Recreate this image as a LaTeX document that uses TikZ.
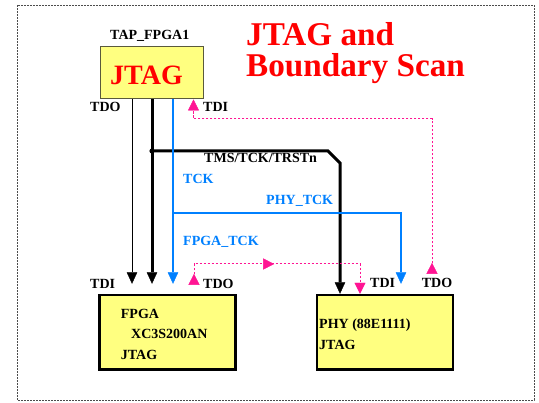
\documentclass[tikz,border=0pt]{standalone}
\usepackage{fontspec}
\setmainfont{Liberation Serif}
\usetikzlibrary{arrows.meta,decorations.markings}
\definecolor{pad}{RGB}{255,255,128}
\definecolor{mag}{RGB}{255,20,147}
\definecolor{sky}{RGB}{0,128,255}
\definecolor{tapedge}{RGB}{90,90,60}
\begin{document}
\begin{tikzpicture}[x=1pt,y=-1pt,
  lbl/.style={inner sep=0pt, anchor=base west, font=\fontsize{14}{16}\selectfont\bfseries},
  chip/.style={draw=black, line width=2.5pt, fill=pad, inner sep=0pt},
  tip/.style={-{Triangle[width=10.5pt,length=11.5pt,line width=0.4pt]}},
  sigthin/.style={draw=black, line width=1pt},
  sigbus/.style={draw=black, line width=3pt},
  sigclk/.style={draw=sky, line width=1.2pt},
  sigscan/.style={draw=mag, line width=1pt, dash pattern=on 2.5pt off 1.5pt},
  backtip/.style={{Triangle[reversed,width=11pt,length=11pt,line width=0.4pt]}-{Triangle[width=11pt,length=11pt,line width=0.4pt]}},
]
\useasboundingbox (0,0) rectangle (539,403);
\draw[gray!60!black, line width=0.8pt, dash pattern=on 2pt off 1pt] (17,5) rectangle (534,400);

% boxes
\node[draw=tapedge, line width=1pt, fill=pad, minimum width=103pt, minimum height=52pt, inner sep=0pt] (tap) at (151.5,73) {};
\node[chip, minimum width=136.4pt, minimum height=74.3pt] (fpga) at (167.5,332.2) {};
\node[chip, minimum width=135.7pt, minimum height=74.3pt] (phy) at (384.9,332.2) {};

% texts
\node[inner sep=0pt, anchor=base west, text=red, font=\fontsize{33.2}{31}\selectfont\bfseries] (t1) at (246,46) {JTAG and};
\node[inner sep=0pt, anchor=base west, text=red, font=\fontsize{33.2}{31}\selectfont\bfseries] (t2) at (246,77) {Boundary Scan};
\node[inner sep=0pt, anchor=base west, text=red, font=\fontsize{28}{30}\selectfont\bfseries] (tapjtag) at (110,85) {JTAG};
\node[lbl] (tapname) at (110,39.5) {TAP\_FPGA1};
\node[lbl] (ltdo) at (90,111.7) {TDO};
\node[lbl] (ltdi) at (203,111.7) {TDI};
\node[lbl] (lbus) at (204,162.7) {TMS/TCK/TRSTn};
\node[lbl, text=sky] (ltck) at (183,184) {TCK};
\node[lbl, text=sky] (lphytck) at (266,205) {PHY\_TCK};
\node[lbl, text=sky] (lfpgatck) at (183,245.7) {FPGA\_TCK};
\node[lbl] (ftdi) at (90,288.3) {TDI};
\node[lbl] (ftdo) at (203,288.3) {TDO};
\node[lbl] (ptdi) at (370,288) {TDI};
\node[lbl] (ptdo) at (421.7,288) {TDO};
\node[lbl] (f1) at (120.7,318.3) {FPGA};
\node[lbl] (f2) at (131,338.7) {XC3S200AN};
\node[lbl] (f3) at (120.7,360) {JTAG};
\node[lbl] (p1) at (319,329) {PHY (88E1111)};
\node[lbl] (p2) at (319,350) {JTAG};

% x positions
\coordinate (cTDO) at (132,0);
\coordinate (cBus) at (152,0);
\coordinate (cClk) at (173,0);
\coordinate (cTDI) at (193.5,0);
\coordinate (cFTDO) at (194,0);
\coordinate (cPbus) at (340,0);
\coordinate (cPtdi) at (360,0);
\coordinate (cPclk) at (401,0);
\coordinate (cPTDO) at (432,0);
\coordinate (jn) at (152,151);
\coordinate (bk1) at (328,151);
\coordinate (bk2) at (340,163);
\coordinate (br) at (173,213);
\coordinate (m1) at (432,119);
\coordinate (m2) at (193.5,119);
\coordinate (n1) at (194,264);
\coordinate (n2) at (360,264);

% connectors
\draw[sigthin, tip, shorten >=10pt] (tap.south -| cTDO) -- (fpga.north -| cTDO);
\draw[sigbus, tip, shorten >=10pt] (tap.south -| cBus) -- (fpga.north -| cBus);
\draw[sigbus, tip, line join=miter] (jn) -- (bk1) -- (bk2) -- (phy.north -| cPbus);
\fill (jn) circle (2.6pt);
\draw[sigclk, tip, shorten >=10pt] (tap.south -| cClk) -- (fpga.north -| cClk);
\draw[sigclk, tip, shorten >=10pt] (br) -| (phy.north -| cPclk);
\draw[sigscan, backtip, shorten <=20pt] (phy.north -| cPTDO) -- (m1) -- (m2) -- (tap.south -| cTDI);
\draw[sigscan, backtip, shorten <=9pt,
  postaction={decorate, decoration={markings, mark=at position 110pt with {\arrow{Triangle[width=11pt,length=11pt,line width=0.4pt]}}}}]
  (fpga.north -| cFTDO) -- (n1) -- (n2) -- (phy.north -| cPtdi);
\end{tikzpicture}
\end{document}
